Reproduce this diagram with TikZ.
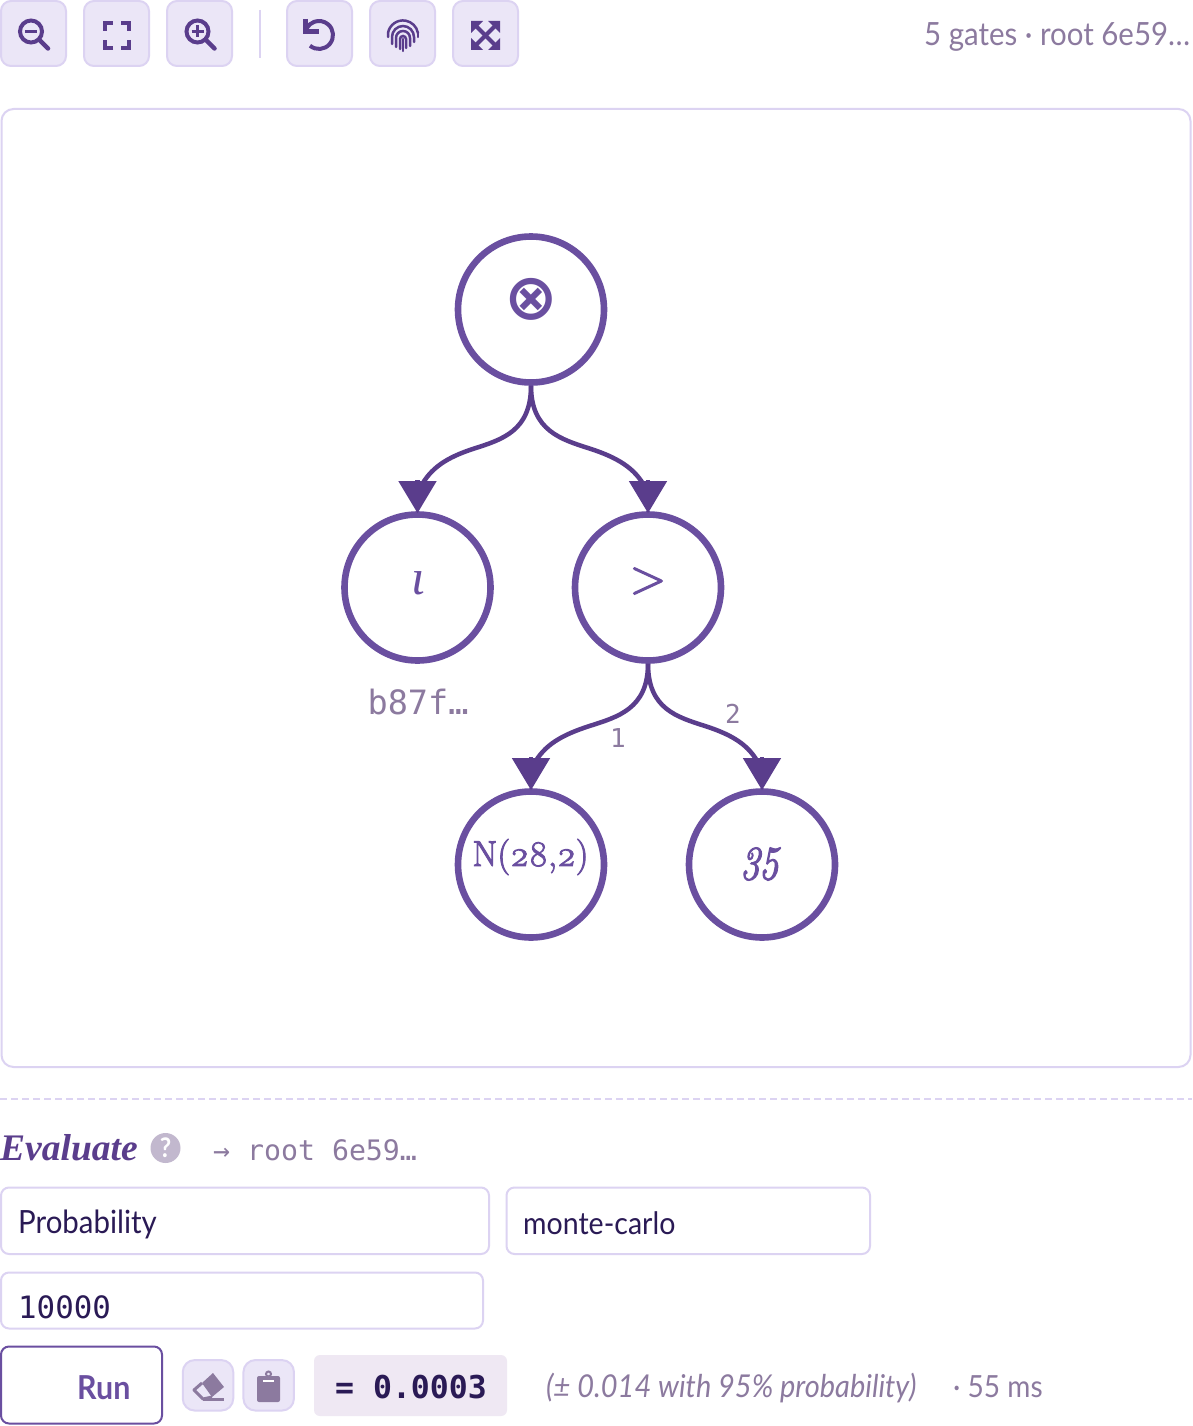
\documentclass[tikz,border=0pt]{standalone}
\usepackage{fontspec}
\setmainfont[FakeStretch=0.92]{Lato}
\newfontfamily\gatefont[Numbers=OldStyle,FakeBold=2.5]{Latin Modern Roman}
\newfontfamily\constfont[Numbers=OldStyle,FakeBold=2.5,FakeStretch=0.8]{Latin Modern Roman}
\newfontfamily\symbfont{DejaVu Sans}
\newfontfamily\codefont{DejaVu Sans Mono}
\newfontfamily\headfont{Liberation Serif}
\usetikzlibrary{arrows.meta,calc}
\definecolor{gatepurple}{HTML}{6A4FA0}
\definecolor{edgepurple}{HTML}{5A3D8C}
\definecolor{paleline}{HTML}{DCD3F2}
\definecolor{palefill}{HTML}{EBE6F7}
\definecolor{mutedtext}{HTML}{8C7A9F}
\definecolor{inktext}{HTML}{2A1A55}
\definecolor{resultfill}{HTML}{EFE8F3}
\definecolor{helpfill}{HTML}{C2B8CE}
\newcommand{\fsize}[1]{\fontsize{#1}{#1}\selectfont}
\tikzset{
  gate/.style={circle, draw=gatepurple, line width=6.6pt, fill=white, minimum size=146pt, inner sep=0pt},
  gatetext/.style={inner sep=0pt, text=gatepurple},
  edge/.style={draw=edgepurple, line width=4.5pt},
  edgetip/.style={draw=edgepurple, line width=4.5pt, -{Triangle[width=37pt,length=32pt,color=edgepurple]}},
  toolbtn/.style={draw=paleline, fill=palefill, line width=2pt, rounded corners=10pt, minimum size=65pt, inner sep=0pt},
  smallbtn/.style={toolbtn, rounded corners=12pt, minimum size=50.5pt},
  field/.style={draw=paleline, fill=white, line width=2pt, rounded corners=8pt, anchor=north west, inner sep=0pt},
  icon/.style={draw=edgepurple, line width=4pt},
  printline/.style={draw=edgepurple, line width=2.5pt, line cap=round},
  txt/.style={inner sep=0pt, anchor=base west},
}
\begin{document}
\begin{tikzpicture}[x=1pt, y=-1pt]
\useasboundingbox (0,0) rectangle (1192,1426);
\fill[white] (0,0) rectangle (1192,1426);

% toolbar
\foreach \btn/\x in {zoomout/33.5, fit/116.5, zoomin/199.5, undo/319.5, print/402.5, expand/485.5}
  \node[toolbtn] (\btn) at (\x,33.5) {};
\draw[paleline, line width=2pt] (260,10) -- (260,58);
\foreach \x in {31, 197.5} {
  \draw[icon] (\x,31.5) circle[radius=11pt];
  \draw[icon, line width=4.5pt, line cap=round] (\x+9,40.5) -- (\x+17,48.5);
  \draw[icon, line width=3pt] (\x-6,31.5) -- (\x+6,31.5);
}
\draw[icon, line width=3pt] (197.5,25.5) -- (197.5,37.5);
\draw[icon] (105,31) -- (105,23) -- (113,23);
\draw[icon] (121,23) -- (129,23) -- (129,31);
\draw[icon] (129,40) -- (129,48) -- (121,48);
\draw[icon] (113,48) -- (105,48) -- (105,40);
\draw[icon] (310,45.7) arc[start angle=230, end angle=510, radius=14pt];
\draw[icon, line width=5pt] (305.5,19) -- (305.5,31.5) -- (319,31.5);
\draw[printline] (388,37) -- (388,33) arc[start angle=170, end angle=10, radius=15.2pt];
\draw[printline] (418,33) -- (418,37);
\draw[printline] (392,44) -- (392,37) arc[start angle=180, end angle=0, radius=11pt] -- (414,42);
\draw[printline] (396,47) -- (396,38) arc[start angle=180, end angle=0, radius=7pt] -- (410,46);
\draw[printline] (400,49) -- (400,39) arc[start angle=180, end angle=0, radius=3pt] -- (406,48);
\draw[printline] (403,39) -- (403,51);
\draw[icon] (476,26) -- (495,45);
\draw[icon] (495,26) -- (476,45);
\fill[edgepurple] (471,21) -- (483,21) -- (471,33) -- cycle;
\fill[edgepurple] (500,21) -- (488,21) -- (500,33) -- cycle;
\fill[edgepurple] (471,50) -- (483,50) -- (471,38) -- cycle;
\fill[edgepurple] (500,50) -- (488,50) -- (500,38) -- cycle;
\node[txt, text=mutedtext, font=\fsize{32}] (gatecount) at (924,46) {5 gates · root 6e59…};

% graph
\node[draw=paleline, fill=white, line width=2pt, rounded corners=12pt, minimum width=1189pt, minimum height=958pt, inner sep=0pt] (canvas) at (596,588) {};
\node[gate] (root) at (531,309.5) {};
\node[gate] (iota) at (417.5,587.5) {};
\node[gate] (gt) at (648,587.5) {};
\node[gate] (normal) at (531,864.5) {};
\node[gate] (const) at (762,864.5) {};

\node[gatetext, font=\symbfont\bfseries\fsize{64}] (rootlabel) at (531,299) {⊗};
\node[gatetext, font=\headfont\itshape\fsize{50}] (iotalabel) at (418,583) {ι};
\node[gatetext, font=\gatefont\fsize{48}] (gtlabel) at (648,581) {>};
\node[gatetext, font=\gatefont\fsize{36}] (normallabel) at (530.5,857) {N(28,2)};
\node[gatetext, font=\constfont\itshape\fsize{48}] (constlabel) at (761,864) {35};

\foreach \from/\to/\s in {root/iota/1, root/gt/-1, gt/normal/1, gt/const/-1} {
  \draw[edge] (\from.south) .. controls +(0,45) and +({\s*28},-9) .. ($(\from.south)!.5!(\to.north)$)
    .. controls +({-\s*28},9) and +({\s*10},-19) .. ($(\to.north)+({\s*3},-24)$);
  \draw[edgetip] ($(\to.north)+(0,-31)$) -- ($(\to.north)+(0,2)$);
}

\node[inner sep=0pt, text=mutedtext, font=\codefont\fsize{33.5}] (iotahash) at (418,702) {b87f…};
\node[inner sep=0pt, text=mutedtext, font=\codefont\fsize{26}] (edgeone) at (618,738) {1};
\node[inner sep=0pt, text=mutedtext, font=\codefont\fsize{26}] (edgetwo) at (733,714) {2};

% evaluate panel
\draw[paleline, line width=2pt, dash pattern=on 7pt off 4pt] (0,1099) -- (1192,1099);
\node[txt, text=edgepurple, font=\headfont\bfseries\itshape\fsize{37.5}] (evaluate) at (0,1160) {Evaluate};
\node[circle, fill=helpfill, minimum size=30pt, inner sep=0pt, text=white, font=\bfseries\fsize{27}] (help) at (165.5,1148) {?};
\node[txt, text=mutedtext, font=\codefont\fsize{28.2}] (target) at (213,1160) {→ root 6e59…};

\node[field, minimum width=488pt, minimum height=66.5pt] (kindbox) at (0,1186.5) {};
\node[field, minimum width=363.5pt, minimum height=66.5pt] (methodbox) at (505.5,1186.5) {};
\node[field, minimum width=482pt, minimum height=56pt] (samplesbox) at (0,1271.5) {};
\node[txt, text=inktext, font=\fsize{32}] (kind) at (18,1233) {Probability};
\node[txt, text=inktext, font=\fsize{31}] (method) at (523,1234) {monte-carlo};
\node[txt, text=inktext, font=\codefont\fsize{30.8}] (samples) at (18,1318) {10000};

\node[field, draw=gatepurple, minimum width=161pt, minimum height=77pt] (runbtn) at (0,1345.5) {};
\node[txt, text=gatepurple, font=\bfseries\fsize{33}] (run) at (77,1399) {Run};
\node[smallbtn] (erase) at (208,1385.3) {};
\node[smallbtn] (copy) at (268.7,1385.3) {};
\fill[mutedtext] (213,1373) -- (224,1387) -- (212,1397) -- (202,1383) -- cycle;
\draw[mutedtext, line width=3pt, line join=round] (202,1383) -- (194,1390) -- (203,1399) -- (212,1397);
\draw[mutedtext, line width=3pt] (203,1399.5) -- (224,1399.5);
\fill[mutedtext, rounded corners=2pt] (257,1376) rectangle (280,1402);
\draw[mutedtext, line width=2pt] (268.5,1374) circle[radius=2.5pt];
\draw[white, line width=1.5pt] (263,1381) -- (274,1381);

\node[fill=resultfill, rounded corners=6pt, minimum width=193pt, minimum height=61pt, inner sep=0pt] (resultbox) at (410.5,1385.5) {};
\node[inner sep=0pt, text=inktext, font=\codefont\bfseries\fsize{31.5}] (result) at (411,1387) {= 0.0003};
\node[txt, text=mutedtext, font=\itshape\fsize{31.5}] (bound) at (546,1397) {(± 0.014 with 95\% probability)};
\node[txt, text=mutedtext, font=\fsize{30.5}] (timing) at (953,1397) {· 55 ms};
\end{tikzpicture}
\end{document}
